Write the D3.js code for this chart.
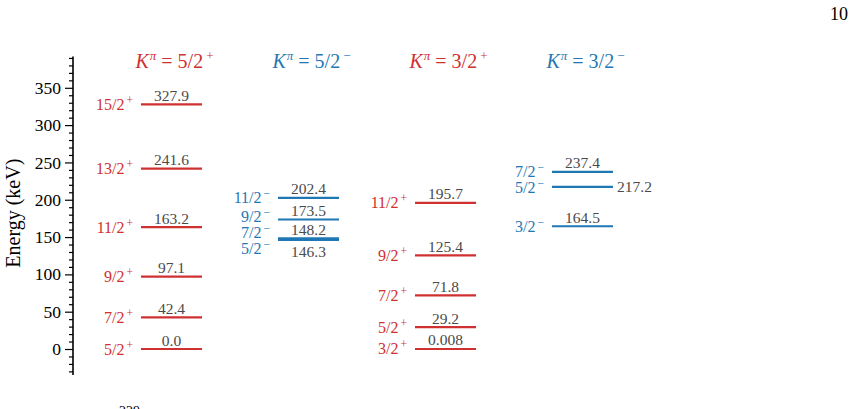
<!DOCTYPE html>
<html>
<head>
<meta charset="utf-8">
<script src="https://cdn.jsdelivr.net/npm/d3@7"></script>
<style>
  html, body { margin: 0; padding: 0; background: #fff; }
  svg { display: block; }
  text { font-family: "Liberation Serif", "DejaVu Serif", serif; }
</style>
</head>
<body>
<svg id="chart" width="855" height="409"></svg>
<script>
// ---- data ----
const bandNames = ["5/2", "5/2", "3/2", "3/2"];
const bandParity = ["+", "−", "+", "−"];

const band1Spins = ["5/2", "7/2", "9/2", "11/2", "13/2", "15/2"];
const band1Energies = [0.0, 42.4, 97.1, 163.2, 241.6, 327.9];
const band1Labels = ["0.0", "42.4", "97.1", "163.2", "241.6", "327.9"];

const band2Spins = ["5/2", "7/2", "9/2", "11/2"];
const band2Energies = [146.3, 148.2, 173.5, 202.4];
const band2Labels = ["146.3", "148.2", "173.5", "202.4"];

const band3Spins = ["3/2", "5/2", "7/2", "9/2", "11/2"];
const band3Energies = [0.008, 29.2, 71.8, 125.4, 195.7];
const band3Labels = ["0.008", "29.2", "71.8", "125.4", "195.7"];

const band4Spins = ["3/2", "5/2", "7/2"];
const band4Energies = [164.5, 217.2, 237.4];
const band4Labels = ["164.5", "217.2", "237.4"];

const majorTicks = [0, 50, 100, 150, 200, 250, 300, 350];
const axisExtent = [-35, 392];
const yTitle = "Energy (keV)";
const pageNumber = "10";

// ---- build ----
const bands = [
  {spins: band1Spins, energies: band1Energies, labels: band1Labels},
  {spins: band2Spins, energies: band2Energies, labels: band2Labels},
  {spins: band3Spins, energies: band3Energies, labels: band3Labels},
  {spins: band4Spins, energies: band4Energies, labels: band4Labels}
].map((b, i) => ({
  index: i, name: bandNames[i], parity: bandParity[i],
  levels: b.spins.map((s, j) => ({spin: s, energy: b.energies[j], label: b.labels[j]}))
}));

const RED = "#cf3030", BLUE = "#1f77b4", GREY = "#4a4a4a";
const colorOf = p => p === "+" ? RED : BLUE;

const svg = d3.select("#chart");
const y = d3.scaleLinear().domain([0, 350]).range([349, 87.8]);
const x = d3.scalePoint().domain(d3.range(bands.length)).range([171.5, 582.5]);
const halfW = 30.5;
const axisX = 73;

// axis
const minorTicks = d3.range(-30, 391, 10).filter(v => v % 50 !== 0);
const gAxis = svg.append("g").attr("transform", `translate(${axisX},0)`);
gAxis.append("line")
  .attr("x1", 0).attr("x2", 0)
  .attr("y1", y(axisExtent[0])).attr("y2", y(axisExtent[1]))
  .attr("stroke", "#000").attr("stroke-width", 1.6);
const major = d3.axisLeft(y).tickValues(majorTicks).tickSize(8).tickPadding(4)
  .tickFormat(d3.format("d"));
const minor = d3.axisLeft(y).tickValues(minorTicks).tickSize(4).tickFormat("");
const gMaj = gAxis.append("g").call(major);
const gMin = gAxis.append("g").call(minor);
[gMaj, gMin].forEach(g => {
  g.select(".domain").remove();
  g.selectAll(".tick line").attr("stroke", "#000").attr("stroke-width", 1.2);
});
gMaj.selectAll(".tick text")
  .attr("fill", "#000").attr("font-size", 17.5)
  .attr("font-family", "'Liberation Serif', serif");

svg.append("text")
  .attr("transform", `translate(20,${y(182)}) rotate(-90)`)
  .attr("text-anchor", "middle")
  .attr("font-size", 20).attr("fill", "#000")
  .text(yTitle);

svg.append("text")
  .attr("x", 848).attr("y", 20)
  .attr("text-anchor", "end")
  .attr("font-size", 18).attr("fill", "#000")
  .text(pageNumber);

// label de-overlap (cluster based)
function dodge(items, gap) {
  const sorted = items.slice().sort((a, b) => a.target - b.target);
  const clusters = [];
  sorted.forEach(it => {
    clusters.push({members: [it], start: it.target});
    while (clusters.length > 1) {
      const c = clusters[clusters.length - 1];
      const p = clusters[clusters.length - 2];
      if (p.start + p.members.length * gap > c.start) {
        const members = p.members.concat(c.members);
        const start = d3.mean(members, (m, k) => m.target - k * gap);
        clusters.splice(clusters.length - 2, 2, {members, start});
      } else break;
    }
  });
  clusters.forEach(c => c.members.forEach((m, k) => m.pos = c.start + k * gap));
}

bands.forEach(b => {
  const cx = x(b.index);
  const col = colorOf(b.parity);
  const g = svg.append("g");

  // header
  const h = g.append("text")
    .attr("x", cx + 3).attr("y", 68)
    .attr("text-anchor", "middle")
    .attr("font-size", 20).attr("fill", col);
  h.append("tspan").attr("font-style", "italic").text("K");
  h.append("tspan").attr("font-style", "italic").attr("font-size", 13).attr("dy", -8).attr("dx", 1).text("π");
  h.append("tspan").attr("dy", 8).attr("dx", 5).text("=");
  h.append("tspan").attr("dx", 5).text(b.name);
  h.append("tspan").attr("font-size", 13).attr("dy", -8).attr("dx", 3).text(b.parity);

  const lv = b.levels.slice().sort((a, c) => a.energy - c.energy);
  // level lines
  g.selectAll("line.lvl").data(lv).enter().append("line")
    .attr("x1", cx - halfW).attr("x2", cx + halfW)
    .attr("y1", d => y(d.energy)).attr("y2", d => y(d.energy))
    .attr("stroke", col).attr("stroke-width", 2.2);

  // spin labels
  const items = lv.map(d => ({d, target: y(d.energy)}));
  dodge(items, 16);
  items.forEach(it => {
    const t = g.append("text")
      .attr("x", cx - halfW - 8).attr("y", it.pos + 5.5)
      .attr("text-anchor", "end")
      .attr("font-size", 16).attr("fill", col);
    t.append("tspan").text(it.d.spin);
    t.append("tspan").attr("font-size", 11.5).attr("dy", -6).attr("dx", 2).text(b.parity);
  });

  // energy labels
  lv.forEach((d, i) => {
    const above = lv[i + 1];
    const gapAbove = above ? above.energy - d.energy : Infinity;
    const t = g.append("text").attr("font-size", 15.5).attr("fill", GREY).text(d.label);
    if (gapAbove < 2) {
      t.attr("x", cx).attr("y", y(d.energy) + 17).attr("text-anchor", "middle");
    } else if (gapAbove < 22) {
      t.attr("x", cx + halfW + 4).attr("y", y(d.energy) + 5.5).attr("text-anchor", "start");
    } else {
      t.attr("x", cx).attr("y", y(d.energy) - 3.5).attr("text-anchor", "middle");
    }
  });
});

// text from the following page line, cut by the bottom edge as in the reference
svg.append("text")
  .attr("x", 119).attr("y", 416)
  .attr("font-size", 14).attr("fill", "#000")
  .text("229");
</script>
</body>
</html>
